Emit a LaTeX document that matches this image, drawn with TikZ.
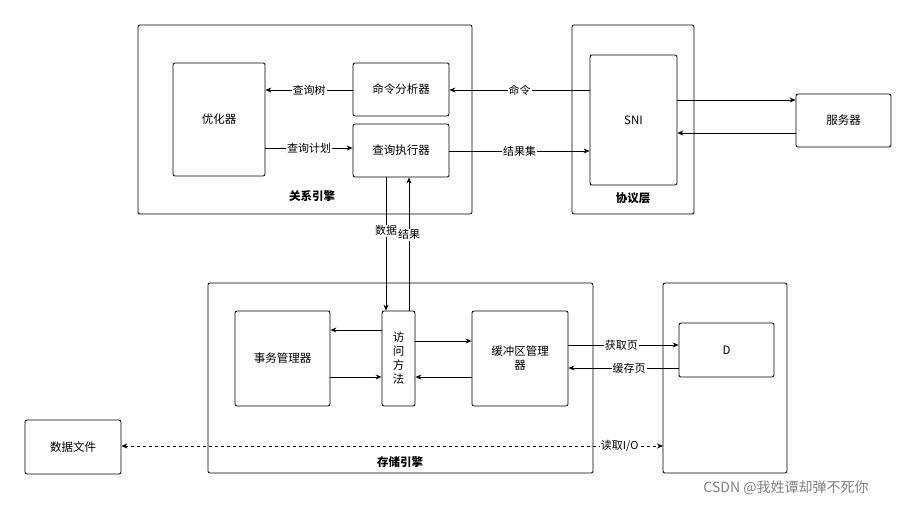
\documentclass[tikz,border=0pt]{standalone}
\usepackage{fontspec}
\setmainfont{Noto Sans CJK SC}
\usetikzlibrary{arrows.meta}

\begin{document}
\begin{tikzpicture}[x=1pt,y=-1pt,
    box/.style = {draw, rounded corners=2pt, thick, inner sep=0pt},
    lab/.style = {fill=white, inner sep=1pt, font=\fontsize{11}{13}\selectfont},
    arr/.style = {-{Stealth[length=6pt,width=5pt]}, thick},
    txt/.style = {font=\fontsize{11.5}{14}\selectfont}]
    \useasboundingbox (0,0) rectangle (917,506);
    % outer boxes
    \draw[box] (138,25) rectangle (472,214);
    \node[font=\fontsize{11.5}{14}\selectfont\bfseries] (rel) at (312,196) {关系引擎};
    \draw[box] (572,25) rectangle (694,214);
    \node[font=\fontsize{11.5}{14}\selectfont\bfseries] (proto) at (633,198) {协议层};
    \draw[box] (208,283) rectangle (593,473);
    \node[font=\fontsize{11.5}{14}\selectfont\bfseries] (store) at (400,462) {存储引擎};
    \draw[box] (663,283) rectangle (787,473);
    % inner nodes
    \node[box, minimum width=92pt, minimum height=113pt, txt] (opt) at (219,119.5) {优化器};
    \node[box, minimum width=96pt, minimum height=53pt, txt] (cmd) at (401,89.5) {命令分析器};
    \node[box, minimum width=96pt, minimum height=53pt, txt] (exec) at (401,150.5) {查询执行器};
    \node[box, minimum width=87pt, minimum height=130pt, txt] (sni) at (633.5,120) {SNI};
    \node[box, minimum width=95pt, minimum height=53pt, txt] (srv) at (843.5,120.5) {服务器};
    \node[box, minimum width=95pt, minimum height=95pt, txt] (tx) at (282.5,358.5) {事务管理器};
    \node[box, minimum width=33pt, minimum height=95pt, txt, align=center] (acc) at (398.5,358.5) {访\\问\\方\\法};
    \node[box, minimum width=96pt, minimum height=95pt, txt, align=center] (buf) at (520,358.5) {缓冲区管理\\器};
    \node[box, minimum width=95pt, minimum height=54pt, txt] (d) at (726.5,350) {D};
    \node[box, minimum width=96pt, minimum height=54pt, txt] (file) at (73,447) {数据文件};
    \node[font=\fontsize{14}{16}\selectfont, text=gray] (mark) at (786,488) {CSDN @我姓谭却弹不死你};
    % connectors
    \draw[arr] (cmd.west |- 0,90) -- node[lab] {查询树} (opt.east |- 0,90);
    \draw[arr] (opt.east |- 0,148) -- node[lab] {查询计划} (exec.west |- 0,148);
    \draw[arr] (sni.west |- 0,90) -- node[lab] {命令} (cmd.east |- 0,90);
    \draw[arr] (exec.east |- 0,151) -- node[lab] {结果集} (sni.west |- 0,151);
    \draw[arr] (sni.east |- 0,100) -- (srv.west |- 0,100);
    \draw[arr] (srv.west |- 0,133) -- (sni.east |- 0,133);
    \draw[arr] (exec.south -| 386,0) -- node[lab, pos=0.4] {数据} (acc.north -| 386,0);
    \draw[arr] (acc.north -| 409,0) -- node[lab, pos=0.57] {结果} (exec.south -| 409,0);
    \draw[arr] (acc.west |- 0,330) -- (tx.east |- 0,330);
    \draw[arr] (tx.east |- 0,377) -- (acc.west |- 0,377);
    \draw[arr] (acc.east |- 0,341) -- (buf.west |- 0,341);
    \draw[arr] (buf.west |- 0,377) -- (acc.east |- 0,377);
    \draw[arr] (buf.east |- 0,345) -- node[lab, pos=0.48] {获取页} (d.west |- 0,345);
    \draw[arr] (d.west |- 0,368) -- node[lab, pos=0.45] {缓存页} (buf.east |- 0,368);
    \coordinate (io) at (663,446);
    \draw[arr, {Stealth[length=6pt,width=5pt]}-{Stealth[length=6pt,width=5pt]}, dashed] (file.east |- 0,446) -- node[lab, pos=0.92] {读取I/O} (io);
\end{tikzpicture}
\end{document}
